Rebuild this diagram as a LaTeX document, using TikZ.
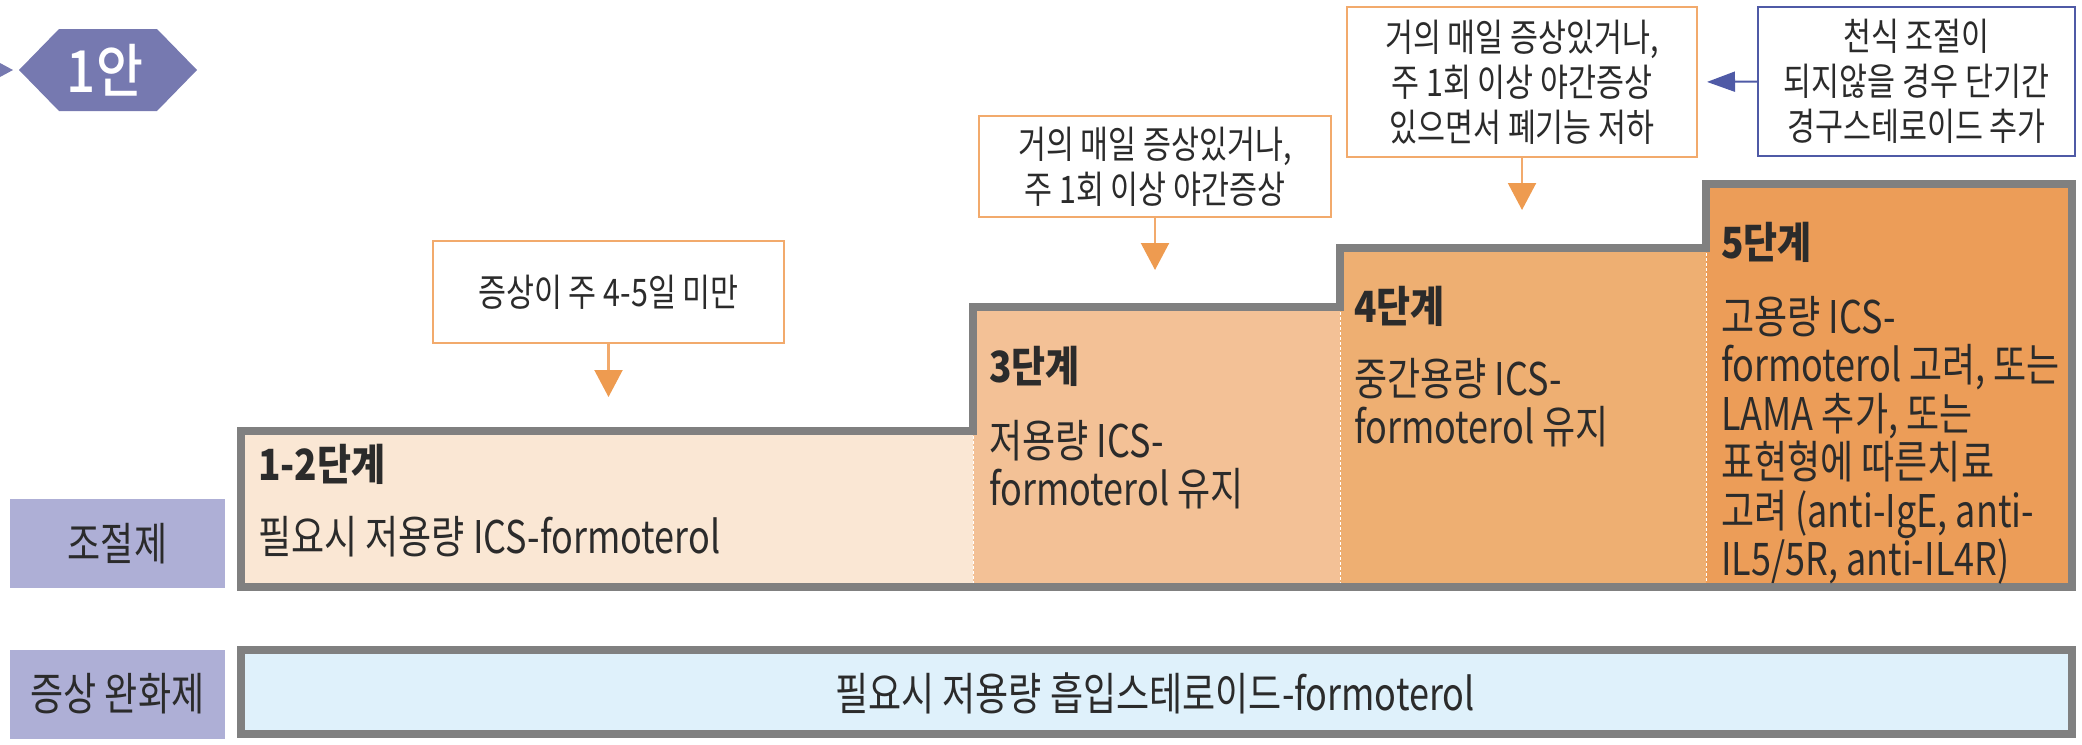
\documentclass[tikz,border=0pt]{standalone}
\usepackage{fontspec}
\setmainfont{Noto Sans CJK KR}[FakeStretch=0.86]
\newfontfamily\condF{Noto Sans CJK KR}[FakeStretch=0.80]
\newfontfamily\hexF{Noto Sans CJK KR Medium}[FakeStretch=0.88]
\usetikzlibrary{arrows.meta}
\definecolor{outl}{HTML}{808080}
\definecolor{sA}{HTML}{FAE7D4}
\definecolor{sB}{HTML}{F3C196}
\definecolor{sC}{HTML}{EEAF72}
\definecolor{sD}{HTML}{EC9D58}
\definecolor{lab}{HTML}{AEAFD6}
\definecolor{hexcol}{HTML}{7679B0}
\definecolor{barfill}{HTML}{DFF1FB}
\definecolor{oline}{HTML}{F2AA6C}
\definecolor{ohead}{HTML}{EE9B50}
\definecolor{bline}{HTML}{4F5AA6}
\definecolor{txt}{HTML}{2B2B2B}
\newcommand{\myBody}{\condF\fontsize{45}{48.5}\selectfont}
\newcommand{\myCall}{\condF\fontsize{38}{45}\selectfont}
\newcommand{\myTitle}{\fontsize{43}{48}\selectfont\bfseries}
\newcommand{\myHex}{\hexF\fontsize{58}{60}\selectfont}
\tikzset{
  callout/.style={draw=oline, line width=2pt, fill=white, align=center, font=\myCall, text=txt, inner sep=0pt},
  bcallout/.style={callout, draw=bline},
  oarrow/.style={draw=oline, line width=2.2pt, -{Triangle[length=27pt,width=28pt,fill=ohead,color=ohead]}},
  barrow/.style={draw=bline, line width=2pt, -{Triangle[length=28pt,width=20pt]}},
  steptitle/.style={font=\myTitle, text=txt, anchor=base west, inner sep=0pt},
  stepbody/.style={font=\myBody, text=txt, anchor=base west, inner sep=0pt, align=left},
  labelbox/.style={fill=lab, font=\myBody, text=txt, inner sep=0pt, minimum width=215pt, minimum height=89pt},
  sepline/.style={draw=white, line width=1pt, dash pattern=on 3pt off 2pt},
}
\begin{document}
\begin{tikzpicture}[x=1pt,y=-1pt]
\useasboundingbox (0,0) rectangle (2082,744);
% hexagon
\fill[hexcol] (0,63) -- (13,70) -- (0,77) -- cycle;
\fill[hexcol] (19,70) -- (59,29) -- (157,29) -- (197,70) -- (157,111) -- (59,111) -- cycle;
\node[font=\myHex, text=white, inner sep=0pt] (hex) at (105,70) {1안};
% step fills
\fill[sA] (241,431) rectangle (973,587);
\fill[sB] (973,307) rectangle (1340,587);
\fill[sC] (1340,248) rectangle (1706,587);
\fill[sD] (1706,184) rectangle (2072,587);
\draw[sepline] (973,431) -- (973,587);
\draw[sepline] (1340,307) -- (1340,587);
\draw[sepline] (1706,248) -- (1706,587);
\draw[outl, line width=8pt, line join=miter] (241,587) -- (241,431) -- (973,431) -- (973,307) -- (1340,307) -- (1340,248) -- (1706,248) -- (1706,184) -- (2072,184) -- (2072,587) -- cycle;
% bottom bar
\draw[outl, line width=8pt, fill=barfill] (241,650) rectangle (2072,734);
\node[font=\myBody, text=txt, inner sep=0pt] (bartext) at (1155,693) {필요시 저용량 흡입스테로이드-formoterol};
% labels
\node[labelbox] (lab1) at (117.5,543.5) {조절제};
\node[labelbox] (lab2) at (117.5,694) {증상 완화제};
% step texts
\node[steptitle] (t1) at (258,480) {1-2단계};
\node[stepbody] (b1) at (258,553) {필요시 저용량 ICS-formoterol};
\node[steptitle] (t2) at (989,382) {3단계};
\node[stepbody] (b2) at (989,505.5) {저용량 ICS-\\formoterol 유지};
\node[steptitle] (t3) at (1354,322) {4단계};
\node[stepbody] (b3) at (1354,443.5) {중간용량 ICS-\\formoterol 유지};
\node[steptitle] (t4) at (1721,258) {5단계};
\node[stepbody] (b4) at (1721,575.5) {고용량 ICS-\\formoterol 고려, 또는\\LAMA 추가, 또는\\표현형에 따른치료\\고려 (anti-IgE, anti-\\IL5/5R, anti-IL4R)};
% callouts
\node[callout, minimum width=351pt, minimum height=102pt] (ca) at (608.5,292) {증상이 주 4-5일 미만};
\node[callout, minimum width=352pt, minimum height=101pt] (cb) at (1155,166.5) {거의 매일 증상있거나,\\주 1회 이상 야간증상};
\node[callout, minimum width=350pt, minimum height=150pt] (cc) at (1522,82) {거의 매일 증상있거나,\\주 1회 이상 야간증상\\있으면서 폐기능 저하};
\node[bcallout, minimum width=317pt, minimum height=149pt] (cd) at (1916.5,81.5) {천식 조절이\\되지않을 경우 단기간\\경구스테로이드 추가};
\coordinate (ta) at (608.5,397);
\coordinate (tb) at (1155,270);
\coordinate (tc) at (1522,210);
\draw[oarrow] (ca.south) -- (ta);
\draw[oarrow] (cb.south) -- (tb);
\draw[oarrow] (cc.south) -- (tc);
\draw[barrow, shorten >=9pt] (cd.west) -- (cc.east);
\end{tikzpicture}
\end{document}
